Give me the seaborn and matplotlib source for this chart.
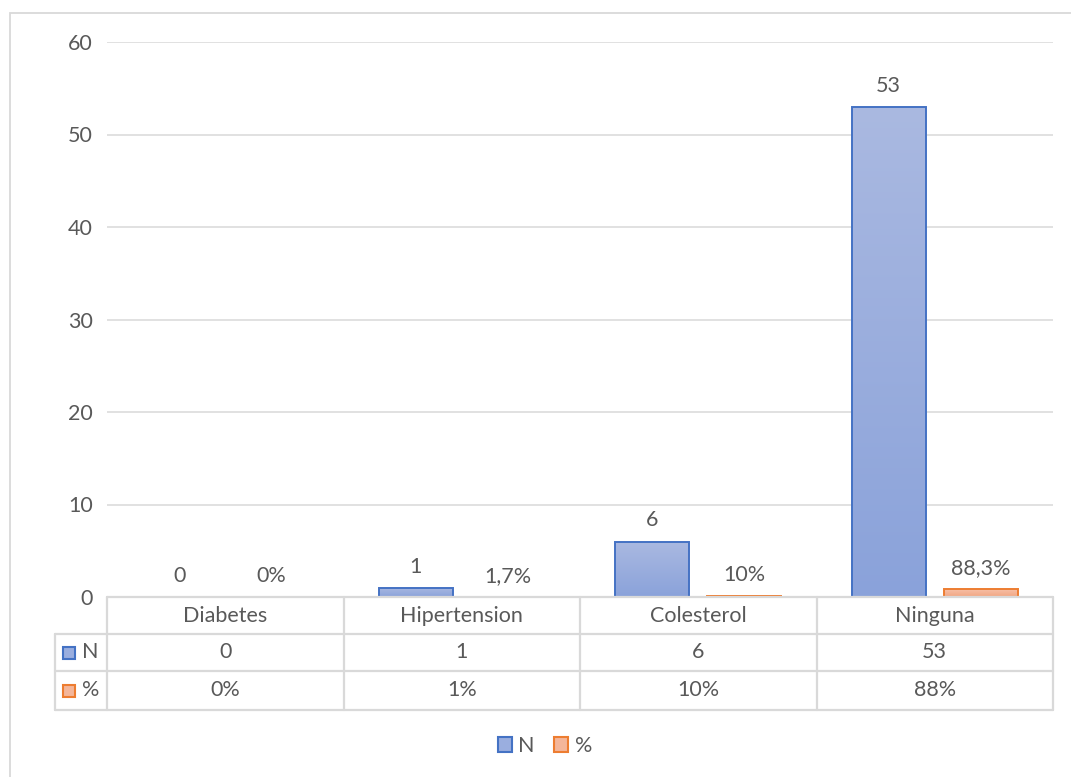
import numpy as np
import pandas as pd
import matplotlib.pyplot as plt
import matplotlib.transforms as mtransforms
from matplotlib.patches import Patch, Rectangle
import seaborn as sns

# data
categorias = ['Diabetes', 'Hipertension', 'Colesterol', 'Ninguna']
n_vals = [0, 1, 6, 53]
pct_vals = [0.0, 0.017, 0.10, 0.883]
n_labels = ['0', '1', '6', '53']
pct_labels = ['0%', '1,7%', '10%', '88,3%']
tabla_pct = ['0%', '1%', '10%', '88%']
series = ['N', '%']

sns.set_style('white')
plt.rcParams['font.family'] = ['Lato', 'DejaVu Sans']

gris = '#595959'
linea = '#d9d9d9'
azul_borde = '#4472c4'
naranja_borde = '#ed7d31'
fs = 15.5

df = pd.DataFrame({
    'cat': categorias * 2,
    'serie': ['N'] * 4 + ['%'] * 4,
    'valor': n_vals + pct_vals,
})

fig = plt.figure(figsize=(10.71, 7.77), dpi=100)
ax = fig.add_axes([107 / 1071, 1 - 597 / 777, 946 / 1071, 555 / 777])

sns.barplot(data=df, x='cat', y='valor', hue='serie', hue_order=series,
            palette=['#9aaedf', '#f4b69a'], width=0.78, gap=0.2,
            legend=False, ax=ax, zorder=3)

ax.set_xlim(-0.5, 3.5)
ax.set_ylim(0, 60)
ax.set_yticks(range(0, 61, 10))
ax.tick_params(axis='y', length=0, pad=10, labelsize=fs, labelcolor=gris)
ax.set_xticks([])
ax.set_xlabel('')
ax.set_ylabel('')
for s in ax.spines.values():
    s.set_visible(False)
for y in range(10, 61, 10):
    ax.axhline(y, color=linea, lw=1.1, zorder=1)

# gradient fill for the bars
grad = np.linspace(0, 1, 256).reshape(-1, 1)
cmap_azul = plt.matplotlib.colors.LinearSegmentedColormap.from_list('az', ['#8aa2da', '#aab9e1'])
cmap_nar = plt.matplotlib.colors.LinearSegmentedColormap.from_list('na', ['#f2a581', '#f7c4ad'])
for cont, cmap, borde in [(ax.containers[0], cmap_azul, azul_borde),
                          (ax.containers[1], cmap_nar, naranja_borde)]:
    for bar in cont:
        bar.set_edgecolor(borde)
        bar.set_linewidth(1.4)
        h = bar.get_height()
        if h <= 0:
            bar.set_visible(False)
            continue
        x0 = bar.get_x()
        w = bar.get_width()
        im = ax.imshow(grad, cmap=cmap, aspect='auto', origin='lower',
                       extent=[x0, x0 + w, 0, h], zorder=2)
        im.set_clip_path(bar)
        bar.set_facecolor('none')
ax.set_xlim(-0.5, 3.5)
ax.set_ylim(0, 60)

ax.bar_label(ax.containers[0], labels=n_labels, padding=8, fontsize=fs, color=gris)
ax.bar_label(ax.containers[1], labels=pct_labels, padding=8, fontsize=fs, color=gris)

# data table under the axis
tr = mtransforms.blended_transform_factory(ax.transData, ax.transAxes)
izq = -0.72
filas = [0, -37 / 555, -74 / 555, -113 / 555]
kw = dict(color=linea, lw=1.6, transform=tr, clip_on=False, zorder=4)
ax.plot([-0.5, 3.5], [filas[0]] * 2, **kw)
for yy in filas[1:]:
    ax.plot([izq, 3.5], [yy, yy], **kw)
ax.plot([izq, izq], [filas[1], filas[3]], **kw)
for xx in np.arange(-0.5, 3.6, 1.0):
    ax.plot([xx, xx], [filas[0], filas[3]], **kw)

centros = [(filas[i] + filas[i + 1]) / 2 for i in range(3)]
for i, cat in enumerate(categorias):
    ax.text(i, centros[0], cat, ha='center', va='center', fontsize=fs, color=gris, transform=tr)
    ax.text(i, centros[1], n_labels[i], ha='center', va='center', fontsize=fs, color=gris, transform=tr)
    ax.text(i, centros[2], tabla_pct[i], ha='center', va='center', fontsize=fs, color=gris, transform=tr)

for yc, nombre, fc, ec in [(centros[1], 'N', '#9aaedf', azul_borde),
                           (centros[2], '%', '#f4b69a', naranja_borde)]:
    ax.plot([-0.661], [yc], marker='s', markersize=8.5, markerfacecolor=fc,
            markeredgecolor=ec, markeredgewidth=1.5, transform=tr, clip_on=False)
    ax.text(-0.605, yc, nombre, ha='left', va='center', fontsize=fs, color=gris, transform=tr)

# legend
handles = [Patch(facecolor='#9aaedf', edgecolor=azul_borde, lw=1.5, label='N'),
           Patch(facecolor='#f4b69a', edgecolor=naranja_borde, lw=1.5, label='%')]
leg = fig.legend(handles=handles, loc='center', bbox_to_anchor=(545 / 1071, 1 - 746 / 777),
                 ncol=2, frameon=False, fontsize=fs, handlelength=0.65, handleheight=0.65,
                 handletextpad=0.3, columnspacing=0.9)
for t in leg.get_texts():
    t.set_color(gris)

# outer chart frame
fig.patches.append(Rectangle((10 / 1071, -0.05), 1.2, 1.05 - 13 / 777, fill=False,
                             edgecolor=linea, lw=1.3, transform=fig.transFigure))

fig.savefig('out.png', dpi=100)
